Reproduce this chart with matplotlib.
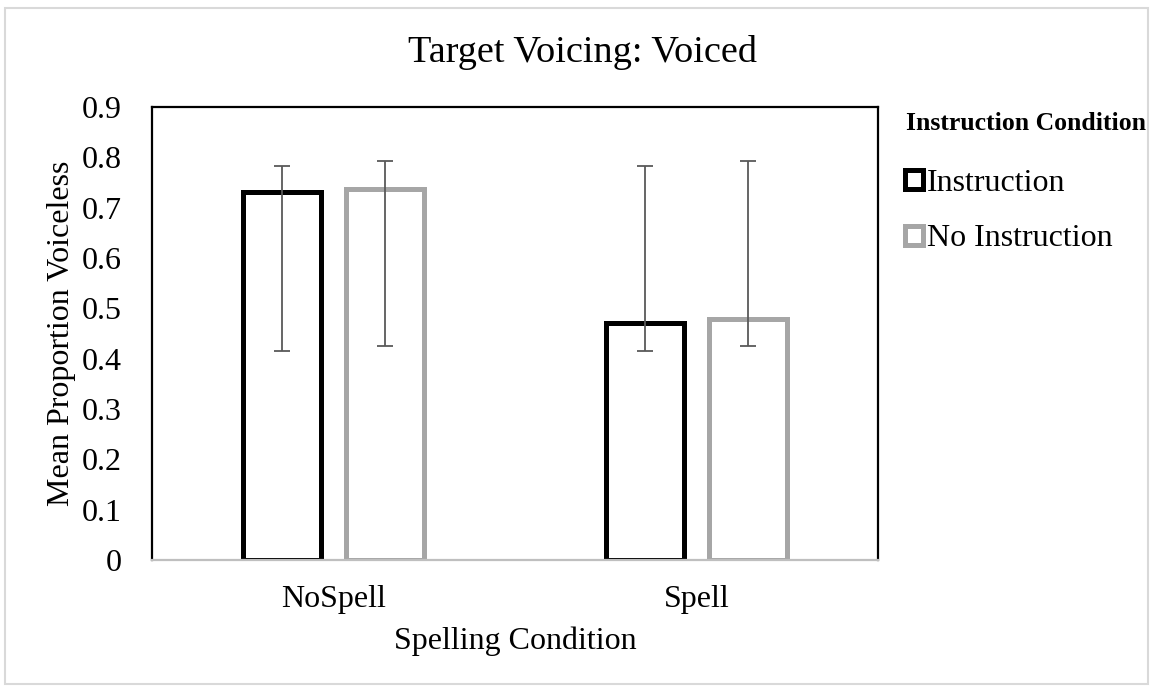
import matplotlib
matplotlib.use("Agg")
import matplotlib.pyplot as plt
from matplotlib.patches import Patch, Rectangle
import numpy as np

plt.rcParams['font.family'] = ['Liberation Serif', 'DejaVu Serif']

title = "Target Voicing: Voiced"
legend_title = "Instruction Condition"
categories = ["NoSpell", "Spell"]
series_names = ["Instruction", "No Instruction"]
means = {
    "Instruction": [0.731, 0.470],
    "No Instruction": [0.738, 0.479],
}
err_low = {
    "Instruction": [0.415, 0.415],
    "No Instruction": [0.426, 0.426],
}
err_high = {
    "Instruction": [0.783, 0.783],
    "No Instruction": [0.792, 0.792],
}
colors = {"Instruction": "#000000", "No Instruction": "#a6a6a6"}
yticks = [0, 0.1, 0.2, 0.3, 0.4, 0.5, 0.6, 0.7, 0.8, 0.9]
ytick_labels = ["0", "0.1", "0.2", "0.3", "0.4", "0.5", "0.6", "0.7", "0.8", "0.9"]

W, H = 1153, 687
fig = plt.figure(figsize=(W / 100, H / 100), dpi=100)
fig.patches.append(Rectangle((5 / W, 3 / H), 1143 / W, 676 / H, transform=fig.transFigure,
                             fill=False, edgecolor="#d9d9d9", linewidth=1.5))
ax = fig.add_axes([152 / W, 1 - 560 / H, 726 / W, 453 / H])

x = np.arange(len(categories))
width = 0.215
offsets = [-0.143, 0.143]
for name, off in zip(series_names, offsets):
    m = np.array(means[name])
    lo = m - np.array(err_low[name])
    hi = np.array(err_high[name]) - m
    ax.bar(x + off, m, width, facecolor="white", edgecolor=colors[name], linewidth=3.6,
           zorder=2, label=name)
    ax.errorbar(x + off, m, yerr=[lo, hi], fmt="none", ecolor="#595959", elinewidth=1.3,
                capsize=6, capthick=1.3, zorder=3)

ax.set_xlim(-0.5, 1.5)
ax.set_ylim(0, 0.9)
ax.set_yticks(yticks)
ax.set_yticklabels(ytick_labels)
ax.set_xticks(x)
ax.set_xticklabels(categories)
ax.tick_params(axis="both", length=0, labelsize=23)
ax.tick_params(axis="y", pad=22)
ax.tick_params(axis="x", pad=18)
for s in ["left", "top", "right"]:
    ax.spines[s].set_color("black")
    ax.spines[s].set_linewidth(1.6)
ax.spines["bottom"].set_color("#bfbfbf")
ax.spines["bottom"].set_linewidth(1.6)
ax.spines["bottom"].set_zorder(4)

fig.text(583 / W, 1 - 53 / H, title, fontsize=27.5, ha="center", va="center")
ax.set_xlabel("Spelling Condition", fontsize=23, labelpad=9)
ax.set_ylabel("Mean Proportion Voiceless", fontsize=23, labelpad=4)

fig.text(1146 / W, 1 - 123 / H, legend_title, fontsize=18.5, fontweight="bold",
         ha="right", va="center")
handles = [Patch(facecolor="white", edgecolor=colors[n], linewidth=3.6) for n in series_names]
leg = fig.legend(handles, series_names, loc="upper left", bbox_to_anchor=(889 / W, 1 - 153 / H),
                 frameon=False, fontsize=23,
                 handlelength=0.55, handleheight=0.55, handletextpad=0.15,
                 labelspacing=0.83, borderpad=0)

fig.savefig("out.png", dpi=100)
